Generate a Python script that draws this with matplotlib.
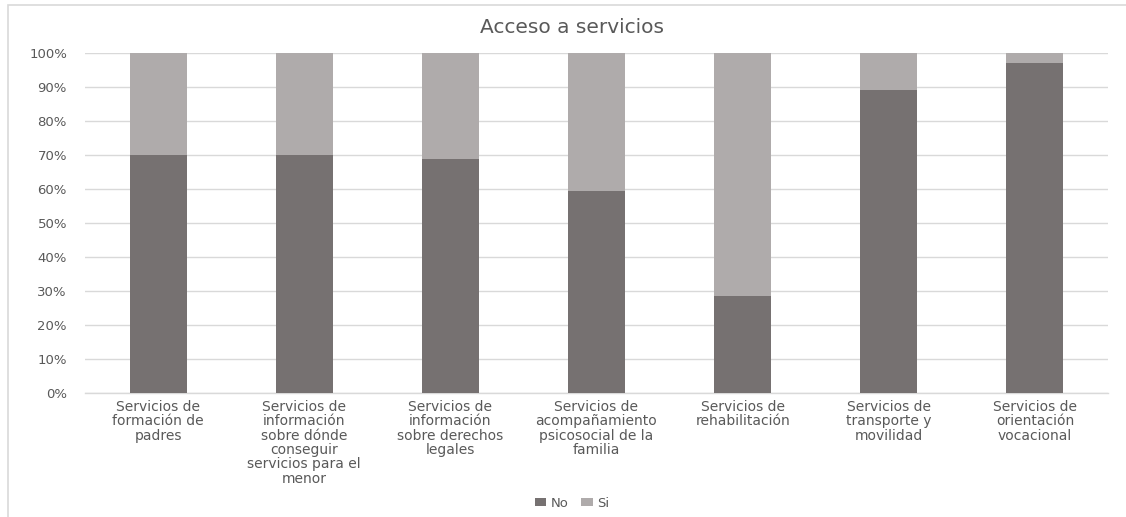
import numpy as np
import matplotlib
matplotlib.use("Agg")
import matplotlib.pyplot as plt
from matplotlib.patches import Rectangle
from matplotlib.ticker import PercentFormatter

categorias = [
    "Servicios de\nformación de\npadres",
    "Servicios de\ninformación\nsobre dónde\nconseguir\nservicios para el\nmenor",
    "Servicios de\ninformación\nsobre derechos\nlegales",
    "Servicios de\nacompañamiento\npsicosocial de la\nfamilia",
    "Servicios de\nrehabilitación",
    "Servicios de\ntransporte y\nmovilidad",
    "Servicios de\norientación\nvocacional",
]
no = [70.0, 70.0, 69.0, 59.4, 28.5, 89.3, 97.1]
si = [100 - v for v in no]

plt.rcParams['font.family'] = ['DejaVu Sans']

fig = plt.figure(figsize=(11.26, 5.17), dpi=100)
ax = fig.add_axes([0.0755, 0.2398, 0.9085, 0.657])

# marco del grafico (sale por la derecha y abajo)
fig.patches.append(Rectangle((0.007, -0.05), 1.05, 1.04, transform=fig.transFigure,
                             fill=False, edgecolor='#d9d9d9', linewidth=1.2))

x = np.arange(len(categorias))
ax.bar(x, no, width=0.39, color='#767171', label='No', zorder=3)
ax.bar(x, si, width=0.39, bottom=no, color='#AFABAB', label='Si', zorder=3)

ax.set_xlim(-0.5, len(categorias) - 0.5)
ax.set_ylim(0, 100)
ax.set_yticks(np.arange(0, 101, 10))
ax.yaxis.set_major_formatter(PercentFormatter(decimals=0))
ax.yaxis.grid(True, color='#d9d9d9', linewidth=1, zorder=0)
for s in ['top', 'right', 'left']:
    ax.spines[s].set_visible(False)
ax.spines['bottom'].set_color('#d9d9d9')
ax.spines['bottom'].set_linewidth(1)
ax.tick_params(axis='both', length=0, colors='#595959', labelsize=9.5)
ax.tick_params(axis='y', pad=13)
ax.tick_params(axis='x', pad=5)
ax.set_xticks(x)
ax.set_xticklabels(categorias, linespacing=1.03, fontsize=10)

fig.text(0.508, 0.947, "Acceso a servicios", ha='center', va='center',
         fontsize=14.5, color='#595959')

ax.legend(loc='center', ncol=2, frameon=False, fontsize=9.5, handlelength=0.9,
          handleheight=0.6, handletextpad=0.3, columnspacing=1.0, labelcolor='#595959')
ax.get_legend().set_bbox_to_anchor((0.508, 0.027), transform=fig.transFigure)

fig.savefig("out.png", dpi=100)
